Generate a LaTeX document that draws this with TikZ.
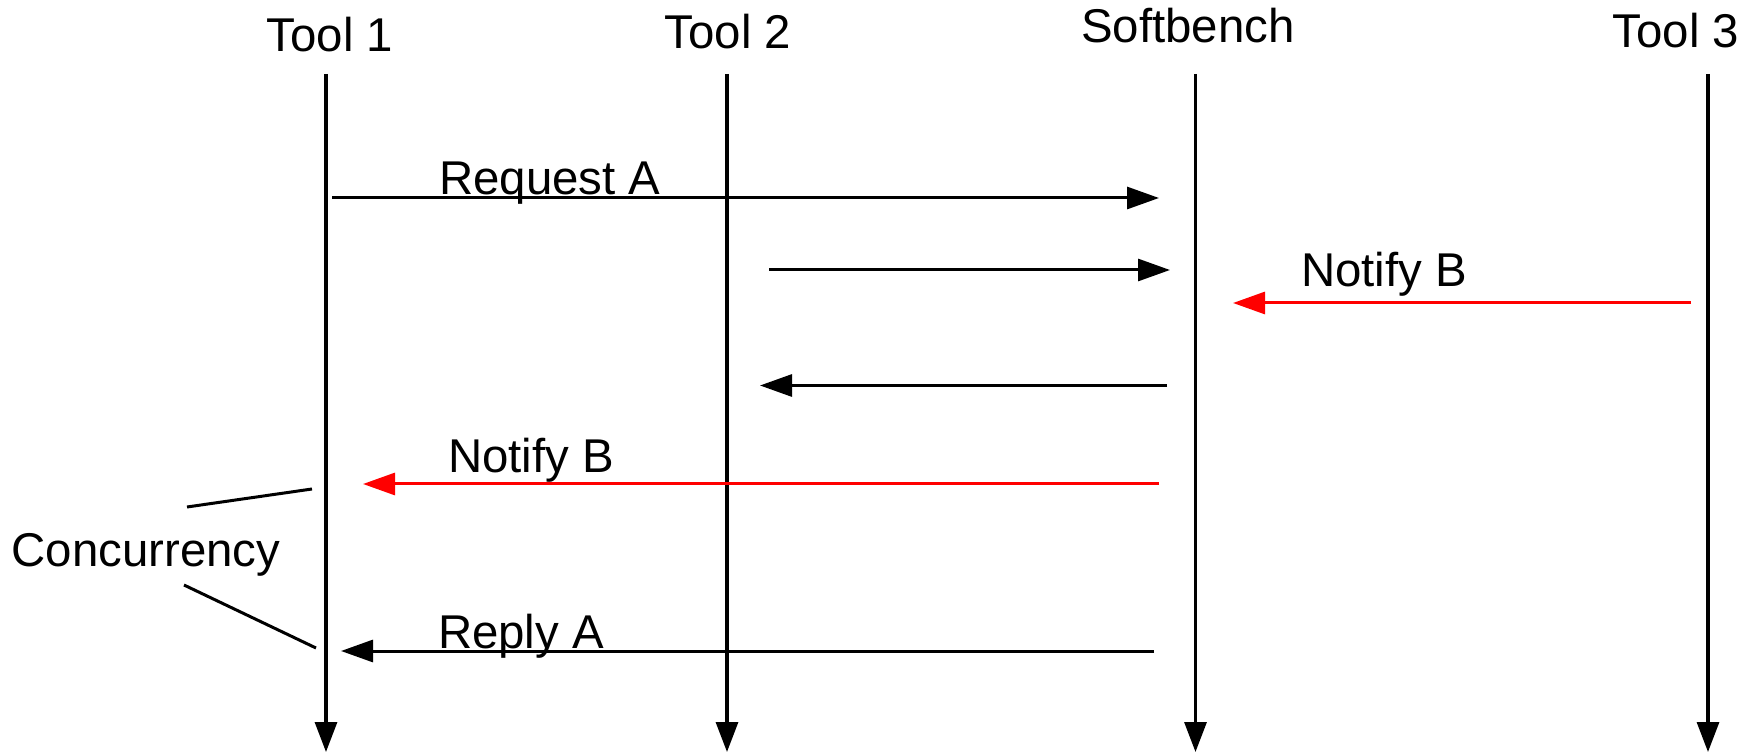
\documentclass[tikz,border=0pt]{standalone}
\usepackage{fontspec}
\setmainfont{Liberation Sans}
\usetikzlibrary{arrows.meta}
\begin{document}
\begin{tikzpicture}[x=0.5pt,y=-0.5pt,
  label/.style={anchor=base,inner sep=0pt,font=\fontsize{23.7}{28}\selectfont},
  lifeline/.style={line width=1.6pt,-{Triangle[length=15pt,width=11pt]}},
  msg/.style={line width=1.5pt,-{Triangle[length=16pt,width=11pt]}},
  notify/.style={msg,red},
  brace/.style={line width=1.5pt}]
\useasboundingbox (0,0) rectangle (1752,753);

% participants
\node[label] (t1) at (330,52) {Tool 1};
\node[label] (t2) at (728,49) {Tool 2};
\node[label] (sb) at (1188,43) {Softbench};
\node[label] (t3) at (1676,48) {Tool 3};

% lifelines
\coordinate (t1top) at (326,74);   \coordinate (t1bot) at (326,752);
\coordinate (t2top) at (727,74);   \coordinate (t2bot) at (727,752);
\coordinate (sbtop) at (1195.5,74); \coordinate (sbbot) at (1195.5,752);
\coordinate (t3top) at (1708,74);  \coordinate (t3bot) at (1708,752);
\draw[lifeline] (t1top) -- (t1bot);
\draw[lifeline] (t2top) -- (t2bot);
\draw[lifeline] (sbtop) -- (sbbot);
\draw[lifeline] (t3top) -- (t3bot);

% message end points
\coordinate (reqS) at (332,198);   \coordinate (reqE) at (1159,198);
\coordinate (m2S) at (769,270);    \coordinate (m2E) at (1170,270);
\coordinate (nb1S) at (1691,303);  \coordinate (nb1E) at (1233,303);
\coordinate (m4S) at (1167,385.5); \coordinate (m4E) at (760,385.5);
\coordinate (nb2S) at (1159,484);  \coordinate (nb2E) at (363,484);
\coordinate (repS) at (1154,651);  \coordinate (repE) at (341,651);

% messages
\draw[msg] (reqS) -- (reqE);
\node[label] (lreq) at (550,195) {Request A};
\draw[msg] (m2S) -- (m2E);
\draw[notify] (nb1S) -- (nb1E);
\node[label] (lnb1) at (1384,287) {Notify B};
\draw[msg] (m4S) -- (m4E);
\draw[notify] (nb2S) -- (nb2E);
\node[label] (lnb2) at (531,473) {Notify B};
\draw[msg] (repS) -- (repE);
\node[label] (lrep) at (521,648) {Reply A};

% concurrency marker
\node[label] (conc) at (146,567) {Concurrency};
\coordinate (c1a) at (187,507); \coordinate (c1b) at (312,489);
\coordinate (c2a) at (184,585); \coordinate (c2b) at (316,648);
\draw[brace] (c1a) -- (c1b);
\draw[brace] (c2a) -- (c2b);
\end{tikzpicture}
\end{document}
